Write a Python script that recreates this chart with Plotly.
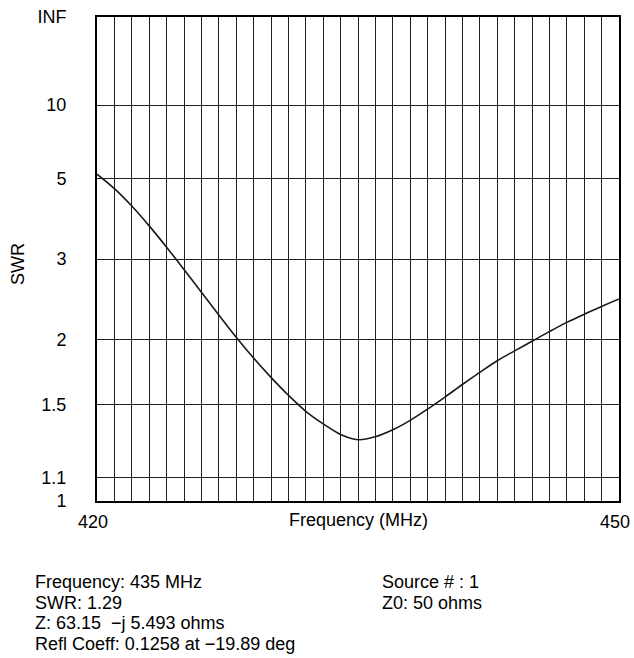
import numpy as np
import plotly.graph_objects as go

# Sweep frequencies (MHz) and the SWR at each one
freq_mhz = [420, 421, 422, 423, 424, 425, 426, 427, 428, 429,
            430, 431, 432, 433, 434, 435, 436, 437, 438, 439,
            440, 441, 442, 443, 444, 445, 446, 447, 448, 449, 450]
swr = [5.161, 4.640, 4.120, 3.634, 3.205, 2.834, 2.517, 2.249, 2.023, 1.838,
       1.686, 1.559, 1.455, 1.379, 1.319, 1.29, 1.306, 1.345, 1.400, 1.469,
       1.547, 1.634, 1.724, 1.816, 1.899, 1.985, 2.077, 2.170, 2.257, 2.344, 2.433]

# SWR axis ticks (INF at the top of the scale)
swr_ticks = [1.0, 1.1, 1.5, 2.0, 3.0, 5.0, 10.0, np.inf]
swr_tick_text = ["1", "1.1", "1.5", "2", "3", "5", "10", "INF"]

x_tick_vals = [420, 450]
x_tick_text = ["420", "450"]

info_left = ["Frequency: 435 MHz", "SWR: 1.29",
             "Z: 63.15\u00a0\u00a0\u2212j 5.493 ohms",
             "Refl Coeff: 0.1258 at \u221219.89 deg"]
info_right = ["Source # : 1", "Z0: 50 ohms"]


def swr_to_rho(s):
    """Vertical scale: SWR is plotted by its reflection coefficient magnitude."""
    s = np.asarray(s, dtype=float)
    with np.errstate(invalid="ignore"):
        r = np.where(np.isinf(s), 1.0, (s - 1.0) / (s + 1.0))
    return r


FONT = "Liberation Sans, Arial, Helvetica, sans-serif"
FS = 18
W, H = 634, 658
L, R, T, B = 97, 15, 17, 157
PW, PH = W - L - R, H - T - B


def px_to_paper(x, y):
    return (x - L) / PW, (H - B - y) / PH


fig = go.Figure()
fig.add_trace(go.Scatter(
    x=freq_mhz, y=swr_to_rho(swr), mode="lines",
    line=dict(color="#1a1a1a", width=1.6, shape="spline", smoothing=1.0),
    hoverinfo="skip", showlegend=False,
))

fig.update_xaxes(
    range=[420, 450], tickvals=x_tick_vals, ticktext=x_tick_text,
    showgrid=False, ticks="", ticklabelstandoff=3, ticklabelshift=-4,
    automargin=False, ticklabeloverflow="allow",
    minor=dict(dtick=1, tick0=420, showgrid=True, gridcolor="#202020", gridwidth=1),
    showline=True, linecolor="black", linewidth=2, mirror=True,
    zeroline=False, tickfont=dict(family=FONT, size=FS, color="black"),
)
fig.update_yaxes(
    range=[0, 1], tickvals=list(swr_to_rho(swr_ticks)), ticktext=swr_tick_text,
    showgrid=True, gridcolor="#202020", gridwidth=1, ticks="", ticklabelstandoff=25,
    automargin=False, ticklabeloverflow="allow",
    showline=True, linecolor="black", linewidth=2, mirror=True,
    zeroline=False, tickfont=dict(family=FONT, size=FS, color="black"),
)

annotations = []
# Axis titles
ax, ay = px_to_paper(358, 520)
annotations.append(dict(text="Frequency (MHz)", x=ax, y=ay, xref="paper", yref="paper",
                        xanchor="center", yanchor="middle", showarrow=False,
                        font=dict(family=FONT, size=FS, color="black")))
ax, ay = px_to_paper(18, 264)
annotations.append(dict(text="SWR", x=ax, y=ay, xref="paper", yref="paper", textangle=-90,
                        xanchor="center", yanchor="middle", showarrow=False,
                        font=dict(family=FONT, size=FS, color="black")))

# Readout block under the chart
line_y = [582, 602.5, 623, 643.5]
for txt, yy in zip(info_left, line_y):
    ax, ay = px_to_paper(33, yy)
    annotations.append(dict(text=txt, x=ax, y=ay, xref="paper", yref="paper",
                            xanchor="left", yanchor="middle", showarrow=False,
                            font=dict(family=FONT, size=FS, color="black")))
for txt, yy in zip(info_right, line_y):
    ax, ay = px_to_paper(380, yy)
    annotations.append(dict(text=txt, x=ax, y=ay, xref="paper", yref="paper",
                            xanchor="left", yanchor="middle", showarrow=False,
                            font=dict(family=FONT, size=FS, color="black")))

fig.update_layout(
    width=W, height=H, autosize=False,
    margin=dict(l=L, r=R, t=T, b=B, pad=0, autoexpand=False),
    paper_bgcolor="white", plot_bgcolor="white",
    annotations=annotations,
    font=dict(family=FONT, size=FS, color="black"),
)

fig.write_html("out.html")
